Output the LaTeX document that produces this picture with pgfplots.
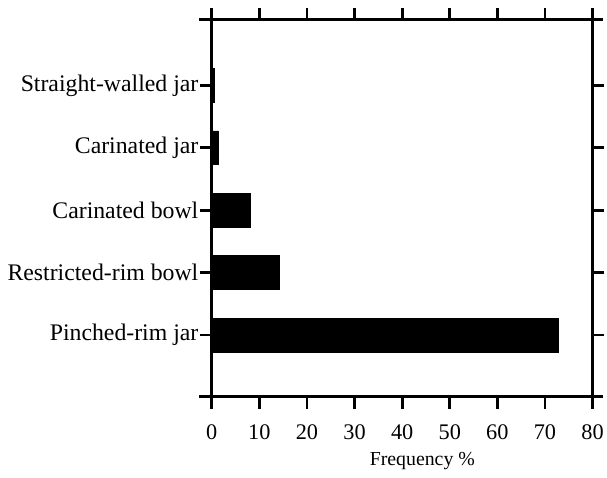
\documentclass[border=0pt]{standalone}
\usepackage{fontspec}
\setmainfont{Liberation Serif}
\usepackage{pgfplots}
\pgfplotsset{compat=1.18}

\begin{document}
\begin{tikzpicture}
\begin{axis}[
    scale only axis,
    width=383bp, height=379bp,
    xbar, bar width=34bp,
    xmin=0, xmax=80, ymin=-0.99, ymax=5.05,
    enlargelimits=false,
    clip=false,
    axis line style={line width=3.2bp},
    every tick/.style={black, line width=2.8bp},
    major tick length=12bp,
    tick align=outside,
    xtick pos=both, ytick pos=both,
    xtick={0,10,...,80},
    ytick={0,1,2,3,4},
    yticklabels={Pinched-rim jar, Restricted-rim bowl, Carinated bowl, Carinated jar, Straight-walled jar},
    /pgf/number format/assume math mode=true,
    xticklabel style={font=\fontsize{22.5}{24}\selectfont, yshift=-13bp},
    yticklabel style={font=\fontsize{24}{26}\selectfont, xshift=2bp},
    xlabel={Frequency \%},
    xlabel style={font=\fontsize{20}{22}\selectfont, at={(axis description cs:0.553,-0.172)}, anchor=center},
]
\addplot[fill=black, draw=black] coordinates {(72.8,0) (14.2,1) (8.1,2) (1.3,3) (0.5,4)};
\end{axis}
\draw[line width=3.2bp] ([xshift=-13bp]current axis.south west) -- ([xshift=11bp]current axis.south east);
\draw[line width=3.2bp] ([xshift=-13bp]current axis.north west) -- ([xshift=11bp]current axis.north east);
\path ([xshift=-213bp,yshift=-81bp]current axis.south west) rectangle ([xshift=11bp,yshift=20bp]current axis.north east);
\end{tikzpicture}
\end{document}
